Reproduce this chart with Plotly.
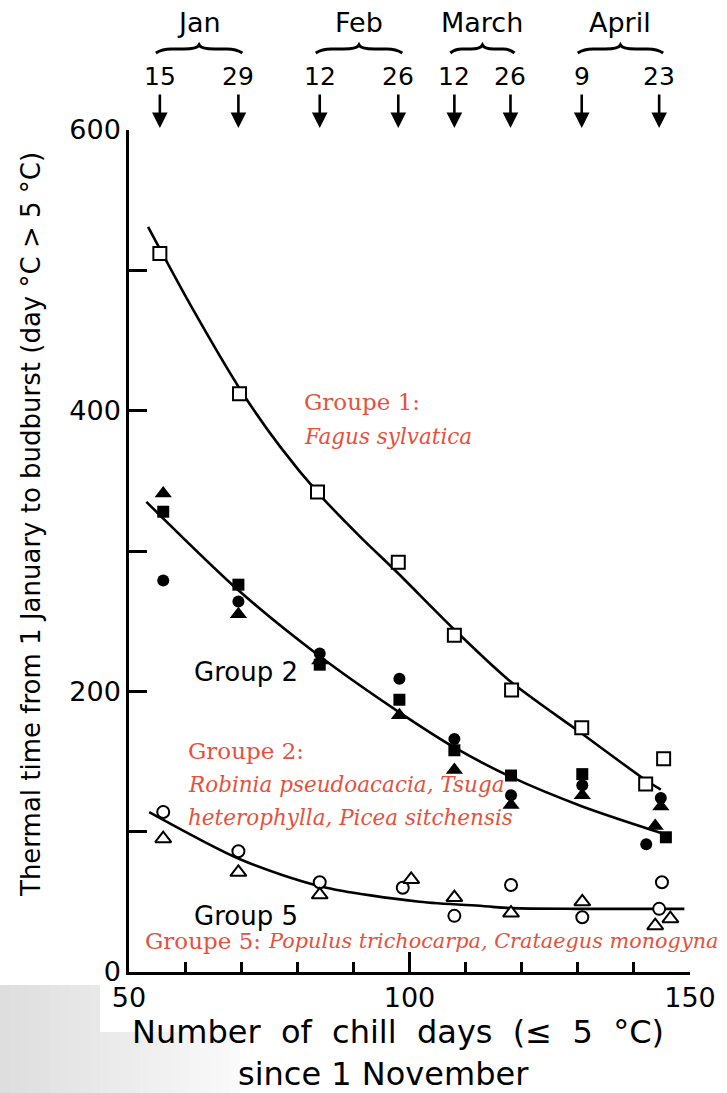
import plotly.graph_objects as go

# ---- data -------------------------------------------------------------
# sampling dates (top arrows) expressed as chill days since 1 November
date_x = [55.5, 69.5, 84.0, 98.0, 108.0, 118.0, 130.7, 144.5]
date_labels = ["15", "29", "12", "26", "12", "26", "9", "23"]
month_names = ["Jan", "Feb", "March", "April"]

# Group 1 (open squares) - Fagus sylvatica
g1_x = [55.5, 69.7, 83.6, 98.0, 108.0, 118.2, 130.7, 142.1, 145.3]
g1_y = [512, 412, 342, 292, 240, 201, 174, 134, 152]
g1_fit_x = [53.4, 61.0, 70.0, 77.0, 84.0, 91.0, 98.0, 108.0, 118.0, 130.7, 142.0, 144.8]
g1_fit_y = [531, 475, 414, 374, 340, 311, 284, 244, 207, 170, 137, 130]

# Group 2 (filled symbols)
g2_circle_x = [56.1, 69.5, 84.0, 98.2, 108.0, 118.1, 130.8, 144.8, 142.2]
g2_circle_y = [279, 264, 227, 209, 166, 126, 133, 124, 91]
g2_square_x = [56.1, 69.5, 84.0, 98.2, 108.0, 118.1, 130.8, 145.7]
g2_square_y = [328, 276, 219, 194, 158, 140, 141, 96]
g2_tri_x = [56.1, 69.5, 84.0, 98.2, 108.0, 118.1, 130.8, 144.8, 143.8]
g2_tri_y = [341, 255, 222, 183, 144, 119, 126, 118, 104]
g2_fit_x = [53.1, 69.5, 84.0, 98.2, 108.0, 118.1, 130.8, 145.7]
g2_fit_y = [335, 272, 225, 185, 160, 139, 118, 98]

# Group 5 (open circles / open triangles)
g5_circle_x = [56.1, 69.5, 84.0, 98.8, 108.0, 118.1, 130.8, 145.0, 144.5]
g5_circle_y = [114, 86, 64, 60, 40, 62, 39, 64, 45]
g5_tri_x = [56.1, 69.5, 84.0, 100.3, 108.0, 118.1, 130.8, 146.5, 143.8]
g5_tri_y = [95, 71, 55, 66, 53, 42, 50, 38, 33]
g5_fit_x = [53.6, 70.0, 84.2, 101.8, 113.0, 118.1, 130.0, 149.0]
g5_fit_y = [114, 80, 61, 50, 47, 45.5, 45, 45]

# ---- geometry helpers (pixel -> paper) --------------------------------
W, H = 727, 1093
ML, MR, MT, MB = 129, 37, 130, 121
PW, PH = W - ML - MR, H - MT - MB


def xp(px):
    return (px - ML) / PW


def yp(py):
    return (H - MB - py) / PH


def x2px(x):
    return ML + (x - 50) / 100 * PW


RED = "#e8503c"
SANS = "DejaVu Sans"
SERIF = "DejaVu Serif"
NB = "\u00a0"

fig = go.Figure()

# fitted curves
for fx, fy in [(g1_fit_x, g1_fit_y), (g2_fit_x, g2_fit_y), (g5_fit_x, g5_fit_y)]:
    fig.add_trace(go.Scatter(x=fx, y=fy, mode="lines",
                             line=dict(color="black", width=2.6, shape="spline", smoothing=0.8),
                             hoverinfo="skip"))


def markers(x, y, symbol, size, filled):
    return go.Scatter(
        x=x, y=y, mode="markers",
        marker=dict(symbol=symbol, size=size,
                    color="black" if filled else "white",
                    line=dict(color="black", width=0 if filled else 2)))


fig.add_trace(markers(g1_x, g1_y, "square", 13, False))
fig.add_trace(markers(g2_circle_x, g2_circle_y, "circle", 12, True))
fig.add_trace(markers(g2_square_x, g2_square_y, "square", 12, True))
fig.add_trace(markers(g2_tri_x, g2_tri_y, "triangle-up", 15, True))
fig.add_trace(markers(g5_circle_x, g5_circle_y, "circle", 12, False))
fig.add_trace(markers(g5_tri_x, g5_tri_y, "triangle-up", 14, False))

shapes = []
# soft grey band in the lower-left corner
steps = 24
for i in range(steps):
    x0 = i * 10
    x1 = x0 + 10
    g = int(222 + (250 - 222) * i / (steps - 1))
    col = f"rgb({g},{g},{g})"
    y0px = 985 if x1 <= 108 else 1032
    shapes.append(dict(type="rect", xref="paper", yref="paper",
                       x0=xp(x0), x1=xp(x1), y0=yp(H), y1=yp(y0px),
                       fillcolor=col, line=dict(width=0), layer="below"))

# braces under month names
for k in range(4):
    a = x2px(date_x[2 * k]) - 4
    b = x2px(date_x[2 * k + 1]) + 4
    m = (a + b) / 2
    q = (b - a) * 0.18
    base = 49
    lo, mid, hi = 4, 0, -4  # pixel offsets
    path = (f"M {xp(a)},{yp(base + lo)} "
            f"Q {xp(a + q * 0.4)},{yp(base + mid)} {xp(a + q)},{yp(base + mid)} "
            f"L {xp(m - q)},{yp(base + mid)} "
            f"Q {xp(m - 2)},{yp(base + mid)} {xp(m)},{yp(base + hi)} "
            f"Q {xp(m + 2)},{yp(base + mid)} {xp(m + q)},{yp(base + mid)} "
            f"L {xp(b - q)},{yp(base + mid)} "
            f"Q {xp(b - q * 0.4)},{yp(base + mid)} {xp(b)},{yp(base + lo)}")
    shapes.append(dict(type="path", xref="paper", yref="paper", path=path,
                       line=dict(color="black", width=3)))

ann = []


def label(px, py, text, size, family=SANS, color="black", xanchor="left", **kw):
    ann.append(dict(x=xp(px), xref="paper", y=yp(py), yref="paper", text=text,
                    xanchor=xanchor, yanchor="middle", showarrow=False,
                    font=dict(family=family, size=size, color=color), **kw))


# month names
for k, name in enumerate(month_names):
    cx = (date_x[2 * k] + date_x[2 * k + 1]) / 2
    ann.append(dict(x=cx, xref="x", y=yp(22), yref="paper", text=name,
                    xanchor="center", yanchor="middle",
                    showarrow=False, font=dict(family=SANS, size=27, color="black")))
# date numbers and arrows
for x, lab in zip(date_x, date_labels):
    ann.append(dict(x=x, xref="x", y=yp(77), yref="paper", text=lab,
                    xanchor="center", yanchor="middle",
                    showarrow=False, font=dict(family=SANS, size=25, color="black")))
    ann.append(dict(x=x, xref="x", y=yp(128), yref="paper", text="",
                    showarrow=True, ax=0, ay=-35, arrowhead=2, arrowsize=1.2,
                    arrowwidth=2.6, arrowcolor="black"))

# group labels
label(192, 672, "Group 2", 26)
label(192, 916, "Group 5", 26)

# species annotations
label(302, 402, "Groupe 1:", 23, SERIF, RED)
label(302, 436, "<i>Fagus sylvatica</i>", 21.5, SERIF, RED)
label(186, 751, "Groupe 2:", 23, SERIF, RED)
label(186, 784, "<i>Robinia pseudoacacia, Tsuga</i>", 21.5, SERIF, RED)
label(186, 817, "<i>heterophylla, Picea sitchensis</i>", 21.5, SERIF, RED)
label(143, 941, "Groupe 5:", 23, SERIF, RED)
label(266, 941, "<i>Populus trichocarpa, Crataegus monogyna</i>", 20.8, SERIF, RED)

# axis titles
label(31, 525, "Thermal time from 1 January to budburst (day °C > 5 °C)", 26,
      xanchor="center", textangle=-90)
label(398, 1032, NB.join(["Number ", "of ", "chill ", "days ", "(≤ ", "5 ", "°C)"]), 32,
      xanchor="center")
label(383, 1074, "since 1 November", 32, xanchor="center")

fig.update_layout(
    width=W, height=H,
    margin=dict(l=ML, r=MR, t=MT, b=MB),
    paper_bgcolor="white", plot_bgcolor="white",
    showlegend=False,
    shapes=shapes,
    annotations=ann,
    xaxis=dict(range=[50, 150], tickvals=[50, 100, 150], ticks="inside", ticklen=20,
               tickwidth=2.5, tickcolor="black", showline=True, linewidth=2.5,
               linecolor="black", showgrid=False, zeroline=False,
               tickfont=dict(family=SANS, size=27, color="black"),
               minor=dict(tickvals=[60, 70, 80, 90, 110, 120, 130, 140], ticks="inside",
                          ticklen=10, tickwidth=2.5, tickcolor="black", showgrid=False)),
    yaxis=dict(range=[0, 600], tickvals=[0, 100, 200, 300, 400, 500, 600],
               ticktext=["0", "", "200", "", "400", "", "600"],
               ticks="inside", ticklen=18, tickwidth=2.5, tickcolor="black",
               showline=True, linewidth=2.5, linecolor="black", showgrid=False,
               zeroline=False, tickfont=dict(family=SANS, size=27, color="black")),
)

fig.write_html("out.html")
